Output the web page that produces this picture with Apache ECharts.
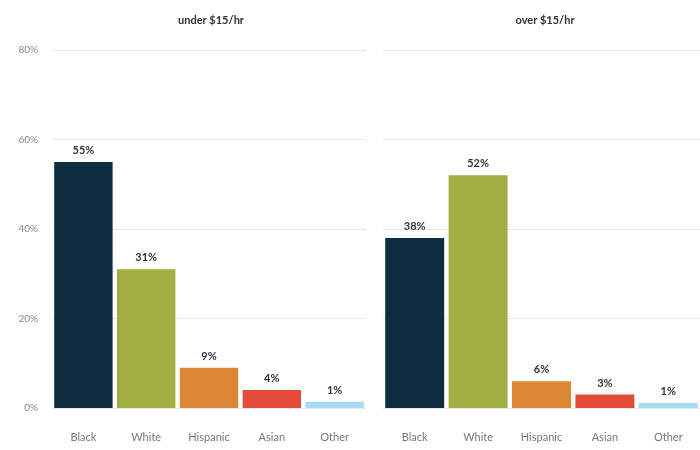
<!DOCTYPE html>
<html>
<head>
<meta charset="utf-8">
<script src="https://cdn.jsdelivr.net/npm/echarts@6/dist/echarts.min.js"></script>
<style>
  html, body { margin: 0; padding: 0; background: #fff; }
  #chart { width: 700px; height: 450px; }
</style>
</head>
<body>
<div id="chart"></div>
<script>
var categories = ['Black', 'White', 'Hispanic', 'Asian', 'Other'];
var underValues = [55, 31, 9, 4, 1.4];
var overValues = [38, 52, 6, 3, 1.2];
var panelTitles = ['under $15/hr', 'over $15/hr'];
var yTicks = [0, 20, 40, 60, 80];
var barColors = ['#0e2c40', '#a2ad42', '#dc8633', '#e04c39', '#a6dcef'];

var chart = echarts.init(document.getElementById('chart'));

var font = 'Lato, "Open Sans", sans-serif';

function makeSeries(values, idx) {
	return {
		type: 'bar',
		xAxisIndex: idx,
		yAxisIndex: idx,
		barCategoryGap: '7%',
		data: values.map(function (v, i) {
			return { value: v, itemStyle: { color: barColors[i] } };
		}),
		label: {
			show: true,
			position: 'top',
			distance: 6,
			fontFamily: font,
			fontSize: 11,
			fontWeight: 'bold',
			color: '#333',
			formatter: function (p) { return Math.round(p.value) + '%'; }
		}
	};
}

var option = {
	animation: false,
	title: [{
		text: panelTitles[0],
		left: 206,
		top: 10,
		textAlign: 'center',
		textStyle: { fontFamily: font, fontSize: 11, fontWeight: 'bold', color: '#333' }
	}, {
		text: panelTitles[1],
		left: 540,
		top: 10,
		textAlign: 'center',
		textStyle: { fontFamily: font, fontSize: 11, fontWeight: 'bold', color: '#333' }
	}],
	grid: [
		{ left: 52, right: 334, top: 50, bottom: 42 },
		{ left: 383, right: 0, top: 50, bottom: 42 }
	],
	xAxis: [0, 1].map(function (i) {
		return {
			type: 'category',
			gridIndex: i,
			data: categories,
			axisLine: { show: false },
			axisTick: { show: false },
			axisLabel: { margin: 24, fontFamily: font, fontSize: 11, color: '#777' }
		};
	}),
	yAxis: [0, 1].map(function (i) {
		return {
			type: 'value',
			gridIndex: i,
			min: yTicks[0],
			max: yTicks[yTicks.length - 1],
			interval: 20,
			axisLine: { show: false },
			axisTick: { show: false },
			axisLabel: {
				show: i === 0,
				margin: 14,
				fontFamily: font,
				fontSize: 10,
				color: '#888',
				formatter: '{value}%'
			},
			splitLine: { lineStyle: { color: '#e6e6e6', width: 1 } }
		};
	}),
	series: [makeSeries(underValues, 0), makeSeries(overValues, 1)]
};

chart.setOption(option);
</script>
</body>
</html>
